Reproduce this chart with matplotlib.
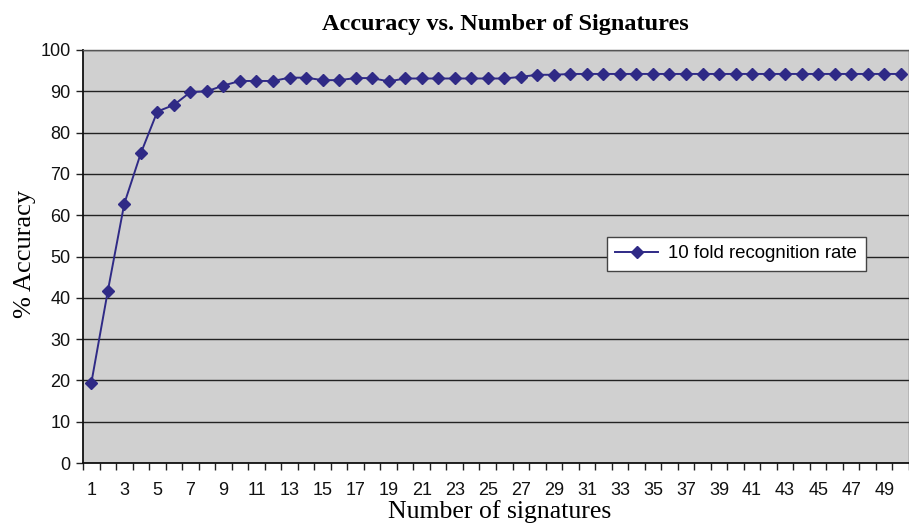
import matplotlib
matplotlib.use("Agg")
import matplotlib.pyplot as plt
from matplotlib.ticker import FixedLocator, NullFormatter

signatures = list(range(1, 51))
accuracy = [19.3, 41.6, 62.8, 75.0, 85.1, 86.7, 89.8, 90.0, 91.4, 92.5,
            92.5, 92.5, 93.3, 93.3, 92.7, 92.7, 93.2, 93.2, 92.4, 93.1,
            93.1, 93.1, 93.1, 93.1, 93.1, 93.1, 93.5, 94.0, 94.0, 94.2,
            94.2, 94.2, 94.2, 94.2, 94.2, 94.2, 94.2, 94.2, 94.2, 94.2,
            94.2, 94.2, 94.2, 94.2, 94.2, 94.2, 94.2, 94.2, 94.2, 94.2]
x_tick_labels = [str(i) for i in range(1, 51, 2)]
y_ticks = list(range(0, 101, 10))

title = "Accuracy vs. Number of Signatures"
xlabel = "Number of signatures"
ylabel = "% Accuracy"
series_label = "10 fold recognition rate"

W, H = 909, 528
fig = plt.figure(figsize=(W / 100, H / 100), dpi=100)
ax = fig.add_axes([83 / W, 1 - 463 / H, (909 - 83) / W, (463 - 50) / H])
ax.set_facecolor("#d0d0d0")

line_color = "#2F2A86"
ax.plot(signatures, accuracy, color=line_color, lw=1.4, marker="D",
        markersize=6, markeredgecolor=line_color, markerfacecolor=line_color,
        label=series_label, zorder=3)

ax.set_xlim(0.5, 50.5)
ax.set_ylim(0, 100)
ax.set_yticks(y_ticks)
ax.yaxis.grid(True, color="#222222", lw=1.0)
ax.set_axisbelow(True)

# category axis: ticks between categories, labels on odd categories
ax.xaxis.set_major_locator(FixedLocator(list(range(1, 51, 2))))
ax.set_xticklabels(x_tick_labels)
ax.xaxis.set_minor_locator(FixedLocator([i + 0.5 for i in range(0, 51)]))
ax.xaxis.set_minor_formatter(NullFormatter())
ax.tick_params(axis="x", which="major", length=0, pad=14)
ax.tick_params(axis="x", which="minor", length=5, width=1, color="#222222")
ax.tick_params(axis="y", length=5, width=1, color="#222222", pad=4)

for lbl in ax.get_xticklabels() + ax.get_yticklabels():
    lbl.set_fontfamily("Liberation Sans")
    lbl.set_fontsize(13)
    lbl.set_color("#111111")

for side in ["left", "bottom"]:
    ax.spines[side].set_color("#111111")
    ax.spines[side].set_linewidth(1.3)
for side in ["top", "right"]:
    ax.spines[side].set_color("#555555")
    ax.spines[side].set_linewidth(1.0)

fig.text(505 / W, 1 - 30 / H, title, ha="center", va="baseline",
         fontfamily="Liberation Serif", fontweight="bold", fontsize=17.5)
fig.text(500 / W, 1 - 518 / H, xlabel, ha="center", va="baseline",
         fontfamily="Liberation Serif", fontsize=18.5)
fig.text(25 / W, 1 - 254 / H, ylabel, ha="center", va="center", rotation=90,
         fontfamily="Liberation Serif", fontsize=19)

leg = ax.legend(loc="upper left",
                bbox_to_anchor=((607 - 83) / (909 - 83), (463 - 237) / (463 - 50)),
                borderaxespad=0, frameon=True, fancybox=False, borderpad=0.45,
                handlelength=2.3, handletextpad=0.55,
                prop={"family": "Liberation Sans", "size": 13.4})
leg.get_frame().set_facecolor("white")
leg.get_frame().set_edgecolor("#444444")
leg.get_frame().set_linewidth(1.0)
leg.get_frame().set_alpha(1)

fig.savefig("out.png", dpi=100)
